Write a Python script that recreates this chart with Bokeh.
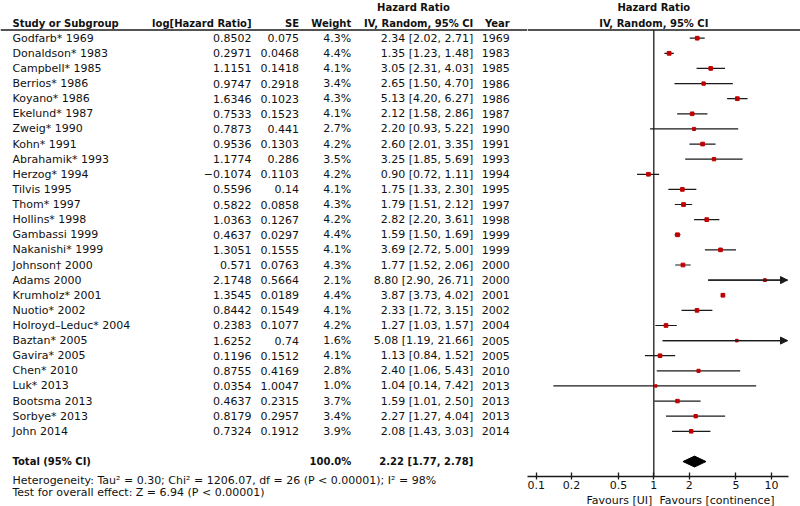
import math
from bokeh.plotting import figure
from bokeh.models import Range1d, ColumnDataSource, FixedTicker, Arrow, NormalHead, Title
from bokeh.layouts import row
from bokeh.embed import file_html
from bokeh.resources import INLINE
from bokeh.core.properties import value

# ---------------- data ----------------
studies = ["Godfarb*", "Donaldson*", "Campbell*", "Berrios*", "Koyano*", "Ekelund*", "Zweig*",
           "Kohn*", "Abrahamik*", "Herzog*", "Tilvis", "Thom*", "Hollins*", "Gambassi",
           "Nakanishi*", "Johnson\u2020", "Adams", "Krumholz*", "Nuotio*", "Holroyd\u2013Leduc*",
           "Baztan*", "Gavira*", "Chen*", "Luk*", "Bootsma", "Sorbye*", "John"]
years = [1969, 1983, 1985, 1986, 1986, 1987, 1990, 1991, 1993, 1994, 1995, 1997, 1998, 1999,
         1999, 2000, 2000, 2001, 2002, 2004, 2005, 2005, 2010, 2013, 2013, 2013, 2014]
log_hr = [0.8502, 0.2971, 1.1151, 0.9747, 1.6346, 0.7533, 0.7873, 0.9536, 1.1774, -0.1074,
          0.5596, 0.5822, 1.0363, 0.4637, 1.3051, 0.571, 2.1748, 1.3545, 0.8442, 0.2383,
          1.6252, 0.1196, 0.8755, 0.0354, 0.4637, 0.8179, 0.7324]
se = [0.075, 0.0468, 0.1418, 0.2918, 0.1023, 0.1523, 0.441, 0.1303, 0.286, 0.1103, 0.14,
      0.0858, 0.1267, 0.0297, 0.1555, 0.0763, 0.5664, 0.0189, 0.1549, 0.1077, 0.74, 0.1512,
      0.4169, 1.0047, 0.2315, 0.2957, 0.1912]
weights = [4.3, 4.4, 4.1, 3.4, 4.3, 4.1, 2.7, 4.2, 3.5, 4.2, 4.1, 4.3, 4.2, 4.4, 4.1, 4.3,
           2.1, 4.4, 4.1, 4.2, 1.6, 4.1, 2.8, 1.0, 3.7, 3.4, 3.9]
hr = [2.34, 1.35, 3.05, 2.65, 5.13, 2.12, 2.20, 2.60, 3.25, 0.90, 1.75, 1.79, 2.82, 1.59,
      3.69, 1.77, 8.80, 3.87, 2.33, 1.27, 5.08, 1.13, 2.40, 1.04, 1.59, 2.27, 2.08]
lo = [2.02, 1.23, 2.31, 1.50, 4.20, 1.58, 0.93, 2.01, 1.85, 0.72, 1.33, 1.51, 2.20, 1.50,
      2.72, 1.52, 2.90, 3.73, 1.72, 1.03, 1.19, 0.84, 1.06, 0.14, 1.01, 1.27, 1.43]
hi = [2.71, 1.48, 4.03, 4.70, 6.27, 2.86, 5.22, 3.35, 5.69, 1.11, 2.30, 2.12, 3.61, 1.69,
      5.00, 2.06, 26.71, 4.02, 3.15, 1.57, 21.66, 1.52, 5.43, 7.42, 2.50, 4.04, 3.03]

total_label = "Total (95% CI)"
total_weight = 100.0
total_hr, total_lo, total_hi = 2.22, 1.77, 2.78
heterogeneity = "Heterogeneity: Tau\u00b2 = 0.30; Chi\u00b2 = 1206.07, df = 26 (P < 0.00001); I\u00b2 = 98%"
overall_test = "Test for overall effect: Z = 6.94 (P < 0.00001)"

ticks = [0.1, 0.2, 0.5, 1, 2, 5, 10]
tick_labels = ["0.1", "0.2", "0.5", "1", "2", "5", "10"]
favours = "Favours [UI]\u00a0 Favours [continence]"

# ---------------- layout constants (page pixels) ----------------
ROW0 = 37.7      # page-y of first study row
ROWH = 15.12     # row pitch
def rowpos(py):
    return (py - ROW0) / ROWH

FONT = value("DejaVu Sans")
FS = "11px"
FSB = "10px"
TXT = "#111111"
LINE = "#1a1a1a"

W, H = 800, 506
XL = 527                      # split between table and forest plot
LEFT_W, RIGHT_W = XL, W - XL
PX1 = 653.3                   # page-x of HR = 1
DEC = 117.6                   # px per decade
def xval(px):
    return 10 ** ((px - PX1) / DEC)
X_LO, X_HI = xval(XL), xval(W)
AXIS_END = xval(788)
CLIP_HI = xval(787)
AXIS_PY = 476
BOTTOM = H - AXIS_PY

n = len(studies)
ys = list(range(n))
TOTAL_ROW = n + 1
HEAD1, HEAD2, HLINE = rowpos(7), rowpos(23), rowpos(29.5)

# ---------------- left table ----------------
left = figure(width=LEFT_W, height=H, x_range=Range1d(0, XL),
              y_range=Range1d(rowpos(AXIS_PY), rowpos(0)),
              toolbar_location=None, output_backend="svg",
              x_axis_location=None, y_axis_location=None, min_border=0,
              outline_line_color=None, background_fill_color="white",
              border_fill_color="white")
left.min_border_bottom = BOTTOM
left.grid.visible = False

def fmt_num(v):
    return repr(v).replace("-", "\u2212")

src = ColumnDataSource(dict(
    y=ys,
    name=[f"{s} {y}" for s, y in zip(studies, years)],
    lh=[fmt_num(v) for v in log_hr],
    se=[fmt_num(v) for v in se],
    w=[f"{v:.1f}%" for v in weights],
    ci=[f"{h:.2f} [{a:.2f}, {b:.2f}]" for h, a, b in zip(hr, lo, hi)],
    yr=[str(y) for y in years],
))

COLS = {"name": (12, "left"), "lh": (251, "right"), "se": (298.5, "right"),
        "w": (350.7, "right"), "ci": (472.7, "right"), "yr": (509.3, "right")}
for col, (xp, al) in COLS.items():
    left.text(x=xp, y="y", text=col, source=src, text_font=FONT, text_font_size=FS,
              text_align=al, text_baseline="middle", text_color=TXT)

def put(fig, x, y, t, align="left", bold=False):
    fig.text(x=[x], y=[y], text=[t], text_font=FONT,
             text_font_size=FSB if bold else FS,
             text_font_style="bold" if bold else "normal",
             text_align=align, text_baseline="middle", text_color=TXT)

put(left, 413, HEAD1, "Hazard Ratio", "center", True)
put(left, 12, HEAD2, "Study or Subgroup", "left", True)
put(left, 251, HEAD2, "log[Hazard Ratio]", "right", True)
put(left, 298.5, HEAD2, "SE", "right", True)
put(left, 350.7, HEAD2, "Weight", "right", True)
put(left, 472.7, HEAD2, "IV, Random, 95% CI", "right", True)
put(left, 509.3, HEAD2, "Year", "right", True)
left.segment(x0=[0], x1=[XL], y0=[HLINE], y1=[HLINE], line_color=LINE, line_width=1.3)

put(left, 12, TOTAL_ROW, total_label, "left", True)
put(left, 350.7, TOTAL_ROW, f"{total_weight:.1f}%", "right", True)
put(left, 472.7, TOTAL_ROW, f"{total_hr:.2f} [{total_lo:.2f}, {total_hi:.2f}]", "right", True)

for t, so in ((heterogeneity, -10), (overall_test, 4)):
    left.add_layout(Title(text=t, align="left", offset=12, standoff=so,
                          text_font="DejaVu Sans", text_font_size=FS,
                          text_font_style="normal", text_color=TXT), "below")

# ---------------- right forest plot ----------------
right = figure(width=RIGHT_W, height=H, x_axis_type="log",
               x_range=Range1d(X_LO, X_HI),
               y_range=Range1d(rowpos(AXIS_PY), rowpos(0)),
               toolbar_location=None, output_backend="svg",
               y_axis_location=None, min_border=0,
               outline_line_color=None, background_fill_color="white",
               border_fill_color="white")
right.min_border_bottom = BOTTOM
right.grid.visible = False

ax = right.xaxis[0]
ax.ticker = FixedTicker(ticks=ticks, minor_ticks=[])
ax.major_label_overrides = {t: l for t, l in zip(ticks, tick_labels)}
ax.bounds = (X_LO, AXIS_END)
ax.axis_line_color = LINE
ax.axis_line_width = 1.3
ax.major_tick_line_color = LINE
ax.major_tick_line_width = 1.3
ax.major_tick_in = 4
ax.major_tick_out = 3
ax.minor_tick_in = 0
ax.minor_tick_out = 0
ax.major_label_standoff = 1
ax.major_label_text_font = "DejaVu Sans"
ax.major_label_text_font_size = FS
ax.major_label_text_color = TXT

right.add_layout(Title(text=favours, align="left", offset=586 - XL, standoff=0,
                       text_font="DejaVu Sans", text_font_size=FS,
                       text_font_style="normal", text_color=TXT), "below")

put(right, 1, HEAD1, "Hazard Ratio", "center", True)
put(right, 1, HEAD2, "IV, Random, 95% CI", "center", True)
right.segment(x0=[X_LO], x1=[X_HI], y0=[HLINE], y1=[HLINE], line_color=LINE, line_width=1.3)

# line of no effect
right.segment(x0=[1], x1=[1], y0=[HLINE], y1=[rowpos(AXIS_PY)], line_color=LINE, line_width=1.3)

clipped = [h > CLIP_HI for h in hi]
fsrc = ColumnDataSource(dict(
    y=ys, hr=hr, lo=lo,
    hi=[min(h, CLIP_HI) for h in hi],
    size=[2.0 + 0.4 * w for w in weights],
))
right.segment(x0="lo", x1="hi", y0="y", y1="y", source=fsrc, line_color=LINE, line_width=1.2)
right.scatter(x="hr", y="y", size="size", marker="square", source=fsrc,
              fill_color="#c00000", line_color="#c00000")

asrc = ColumnDataSource(dict(
    x0=[l for l, c in zip(lo, clipped) if c],
    y=[y for y, c in zip(ys, clipped) if c],
    x1=[CLIP_HI for c in clipped if c],
))
right.add_layout(Arrow(end=NormalHead(size=7, fill_color=LINE, line_color=LINE),
                       x_start="x0", y_start="y", x_end="x1", y_end="y",
                       line_color=LINE, line_width=1.2, source=asrc))

dh = 0.36
right.patch(x=[total_lo, total_hr, total_hi, total_hr],
            y=[TOTAL_ROW, TOTAL_ROW - dh, TOTAL_ROW, TOTAL_ROW + dh],
            fill_color="black", line_color="black")

layout = row(left, right)
with open("out.html", "w") as f:
    f.write(file_html(layout, INLINE))
